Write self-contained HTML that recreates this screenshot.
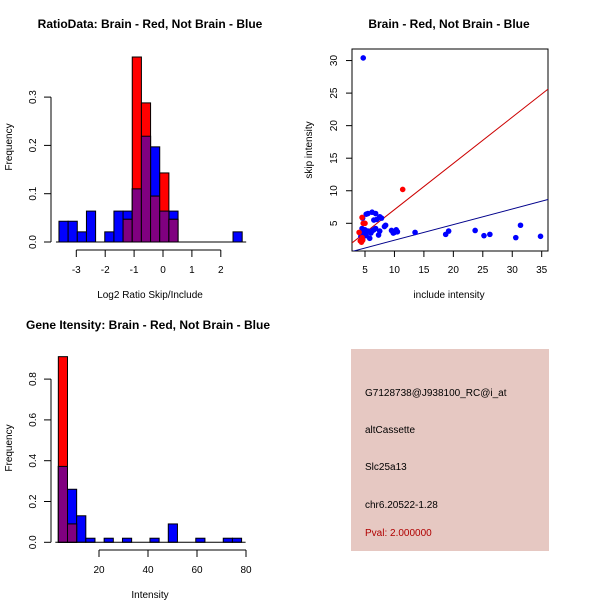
<!DOCTYPE html>
<html><head><meta charset="utf-8"><style>
body{margin:0;background:#fff;}
svg{display:block;font-family:"Liberation Sans",Arial,sans-serif;}
</style></head><body>
<svg id="c" width="600" height="600" xmlns="http://www.w3.org/2000/svg">
<rect width="600" height="600" fill="#fff"/>
<text x="150" y="28" font-size="12" font-weight="bold" text-anchor="middle">RatioData: Brain - Red, Not Brain - Blue</text>
<text x="449" y="28" font-size="12" font-weight="bold" text-anchor="middle">Brain - Red, Not Brain - Blue</text>
<text x="148" y="329" font-size="12" font-weight="bold" text-anchor="middle">Gene Itensity: Brain - Red, Not Brain - Blue</text>
<text x="150" y="298" font-size="10" text-anchor="middle">Log2 Ratio Skip/Include</text>
<text x="12" y="147" font-size="10" text-anchor="middle" transform="rotate(-90 12 147)">Frequency</text>
<text x="449" y="298" font-size="10" text-anchor="middle">include intensity</text>
<text x="312" y="150" font-size="10" text-anchor="middle" transform="rotate(-90 312 150)">skip intensity</text>
<text x="150" y="598" font-size="10" text-anchor="middle">Intensity</text>
<text x="12" y="448" font-size="10" text-anchor="middle" transform="rotate(-90 12 448)">Frequency</text>
<rect x="351" y="349" width="198" height="202" fill="#e6c8c2"/>
<g font-size="10">
<text x="365" y="396">G7128738@J938100_RC@i_at</text>
<text x="365" y="433">altCassette</text>
<text x="365" y="470">Slc25a13</text>
<text x="365" y="508">chr6.20522-1.28</text>
<text x="365" y="536" fill="#b00000">Pval: 2.000000</text>
</g>
<g id="g1"></g><g id="g2"></g><g id="g3"></g>
</svg>
<script>
// Ratio histogram data
const ratioStart = -3.6, ratioWidth = 0.317;
const ratioBlue = [0.043,0.043,0.021,0.064,0,0.021,0.064,0.064,0.11,0.219,0.197,0.064,0.064,0,0,0,0,0,0,0.021];
const ratioRed  = [0,0,0,0,0,0,0,0.047,0.383,0.288,0.095,0.143,0.047,0,0,0,0,0,0,0];
const ratioXTicks = [-3,-2,-1,0,1,2];
const ratioYTicks = [0,0.1,0.2,0.3];
// Intensity histogram data
const intStart = 3.4, intWidth = 3.74;
const intBlue = [0.372,0.26,0.13,0.02,0,0.02,0,0.02,0,0,0.02,0,0.09,0,0,0.02,0,0,0.02,0.02];
const intRed  = [0.91,0.09,0,0,0,0,0,0,0,0,0,0,0,0,0,0,0,0,0,0];
const intXTicks = [20,40,60,80];
const intYTicks = [0,0.2,0.4,0.6,0.8];
// Scatter data
const blueX = [4.7,4.5,4.8,5,5.2,5.5,4.6,6.2,6.8,6.5,7,7.5,7.8,5,5.5,6,6.3,6.8,5.8,5.2,7.3,7.5,8.3,8.5,9.5,10,10.3,10.5,9.8,13.5,18.7,19.2,23.7,25.2,26.2,30.6,31.4,34.8,4.3,4.6,6.5,4.8];
const blueY = [30.4,4.2,3.8,3.5,6.4,6.5,5.8,6.7,6.5,5.5,5.6,6,5.8,4,3.8,3.5,3.9,4.2,2.7,3.1,3.2,3.8,4.5,4.7,3.9,3.6,4,3.7,3.5,3.6,3.3,3.8,3.9,3.1,3.3,2.8,4.7,3,3,2.5,4,3.3];
const redX = [11.4,4.5,4.7,5,4,4.2,4.4,4.6,4.5];
const redY = [10.2,5.9,5,5,3.6,2.3,2.1,2.4,2.8];
const redSlope = 0.71, blueSlope = 0.24;
const scXTicks = [5,10,15,20,25,30,35];
const scYTicks = [5,10,15,20,25,30];

const NS="http://www.w3.org/2000/svg";
function mk(parent,tag,attrs){const e=document.createElementNS(NS,tag);for(const k in attrs)e.setAttribute(k,attrs[k]);parent.appendChild(e);return e;}

function hist(g,start,w,blue,red,xs,ys,xt,yt,yAxisX,xAxisY,prefix){
  const y0=ys(0);
  blue.forEach((v,i)=>{ if(v<=0) return;
    const r=mk(g,'rect',{x:xs(start+i*w),y:ys(v),width:xs(start+(i+1)*w)-xs(start+i*w),height:y0-ys(v),fill:'#0000ff',stroke:'#000','stroke-width':1});
    
    
  });
  red.forEach((v,i)=>{ if(v<=0) return;
    const r=mk(g,'rect',{x:xs(start+i*w),y:ys(v),width:xs(start+(i+1)*w)-xs(start+i*w),height:y0-ys(v),fill:'#ff0000',stroke:'#000','stroke-width':1});
    
    
    const m=Math.min(v,blue[i]);
    if(m>0){const p=mk(g,'rect',{x:xs(start+i*w),y:ys(m),width:xs(start+(i+1)*w)-xs(start+i*w),height:y0-ys(m),fill:'#800080',stroke:'#000','stroke-width':1});
      
      }
  });
  const xmin=xs(start), xmax=xs(start+blue.length*w);
  const bl=mk(g,'line',{x1:xmin-3,x2:xmax+4,y1:y0,y2:y0,stroke:'#000'});
  
  
  const xa=mk(g,'line',{x1:xs(xt[0]),x2:xs(xt[xt.length-1]),y1:xAxisY,y2:xAxisY,stroke:'#000'});
  
  
  xt.forEach(t=>{mk(g,'line',{x1:xs(t),x2:xs(t),y1:xAxisY,y2:xAxisY+7,stroke:'#000'});
    const tx=mk(g,'text',{x:xs(t),y:xAxisY+23,'font-size':10,'text-anchor':'middle'});tx.textContent=t;
    
    });
  const ya=mk(g,'line',{x1:yAxisX,x2:yAxisX,y1:ys(yt[0]),y2:ys(yt[yt.length-1]),stroke:'#000'});
  
  
  yt.forEach(t=>{mk(g,'line',{x1:yAxisX-7,x2:yAxisX,y1:ys(t),y2:ys(t),stroke:'#000'});
    const lx=yAxisX-15;const tx=mk(g,'text',{x:lx,y:ys(t),'font-size':10,'text-anchor':'middle',transform:`rotate(-90 ${lx} ${ys(t)})`});tx.textContent=t.toFixed(1);
    
    });
}

// Panel 1
const rx=v=>163+(v)*28.9, ry=v=>242-v*483;
hist(document.getElementById('g1'),ratioStart,ratioWidth,ratioBlue,ratioRed,rx,ry,ratioXTicks,ratioYTicks,51,250,'ratio');
// Panel 3
const ix=v=>99+(v-20)*2.45, iy=v=>542.3-v*204;
hist(document.getElementById('g3'),intStart,intWidth,intBlue,intRed,ix,iy,intXTicks,intYTicks,51,550,'intensity');

// Panel 2 scatter
const g2=document.getElementById('g2');
const sx=v=>365+(v-5)*5.89, sy=v=>223.3-(v-5)*6.51;
const L=352,R=548,T=49,B=251;
const box=mk(g2,'rect',{x:L,y:T,width:R-L,height:B-T,fill:'none',stroke:'#000'});


const cp=mk(g2,'clipPath',{id:'cp'});mk(cp,'rect',{x:L,y:T,width:R-L,height:B-T});
const inner=mk(g2,'g',{'clip-path':'url(#cp)'});
const xL=(L-365)/5.89+5, xR=(R-365)/5.89+5;
const rl=mk(inner,'line',{x1:sx(xL),y1:sy(redSlope*xL),x2:sx(xR),y2:sy(redSlope*xR),stroke:'#cc0000'});


const bl2=mk(inner,'line',{x1:sx(xL),y1:sy(blueSlope*xL),x2:sx(xR),y2:sy(blueSlope*xR),stroke:'#00008b'});


blueX.forEach((x,i)=>{const c=mk(inner,'circle',{cx:sx(x),cy:sy(blueY[i]),r:2.8,fill:'#0000ff'});
  
  });
redX.forEach((x,i)=>{const c=mk(inner,'circle',{cx:sx(x),cy:sy(redY[i]),r:2.8,fill:'#ff0000'});
  
  });
scXTicks.forEach(t=>{mk(g2,'line',{x1:sx(t),x2:sx(t),y1:B,y2:B+6,stroke:'#000'});
  const tx=mk(g2,'text',{x:sx(t),y:B+22,'font-size':10,'text-anchor':'middle'});tx.textContent=t;
  
  });
scYTicks.forEach(t=>{mk(g2,'line',{x1:L-6,x2:L,y1:sy(t),y2:sy(t),stroke:'#000'});
  const lx=L-15;const tx=mk(g2,'text',{x:lx,y:sy(t),'font-size':10,'text-anchor':'middle',transform:`rotate(-90 ${lx} ${sy(t)})`});tx.textContent=t;
  
  });
</script>
</body></html>
